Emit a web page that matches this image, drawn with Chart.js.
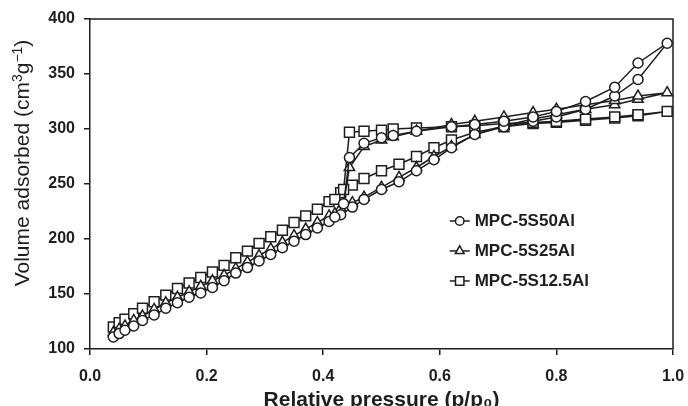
<!DOCTYPE html>
<html>
<head>
<meta charset="utf-8">
<script src="https://cdn.jsdelivr.net/npm/chart.js@4"></script>
<style>
  html, body { margin: 0; padding: 0; background: #fff; }
</style>
</head>
<body>
<canvas id="isoChart" width="688" height="406"></canvas>
<script>
// Presiones relativas (p/p0) de las ramas
const adsP = [0.04, 0.05, 0.06, 0.075, 0.09, 0.11, 0.13, 0.15, 0.17, 0.19, 0.21, 0.23, 0.25, 0.27, 0.29, 0.31, 0.33, 0.35, 0.37, 0.39, 0.41, 0.43, 0.45, 0.47, 0.50, 0.53, 0.56, 0.59, 0.62, 0.66, 0.71, 0.76, 0.80, 0.85, 0.90, 0.94, 0.99];
const desP = [0.94, 0.90, 0.85, 0.80, 0.76, 0.71, 0.66, 0.62, 0.56, 0.52, 0.50, 0.47, 0.445, 0.435, 0.42];

// Volumen adsorbido (cm3/g)
const ads50 = [111, 114, 117, 121, 126, 131, 137, 142, 147, 151, 156, 162, 169, 174, 180, 186, 192, 198, 204, 210, 216, 222, 229, 236, 245, 252, 262, 272, 283, 295, 302, 307, 311, 318, 330, 345, 378];
const des50 = [360, 338, 325, 316, 311, 307, 304, 302, 298, 294, 292, 287, 274, 232, 220];
const ads25 = [115, 118, 121, 126, 130, 136, 142, 147, 152, 157, 162, 167, 173, 179, 185, 191, 197, 203, 209, 215, 221, 228, 233, 238, 247, 256, 265, 275, 284, 295, 303, 309, 313, 318, 322, 327, 333];
const des25 = [330, 326, 322, 318, 315, 311, 307, 304, 298, 293, 290, 284, 265, 232, 223];
const ads125 = [120, 124, 127, 132, 137, 143, 149, 155, 160, 165, 170, 176, 183, 189, 196, 202, 208, 215, 221, 227, 234, 242, 249, 255, 262, 268, 275, 283, 290, 297, 302, 305, 306, 308, 310, 312, 316];
const des125 = [313, 311, 309, 307, 306, 305, 303, 302, 301, 300, 299, 298, 297, 245, 236];

const labels = ["MPC-5S50Al", "MPC-5S25Al", "MPC-5S12.5Al"];
const styles = ["circle", "triangle", "rect"];
const radios = [5, 6, 7];

const xTicks = [0, 0.2, 0.4, 0.6, 0.8, 1.0];
const yTicks = [100, 150, 200, 250, 300, 350, 400];

const tinta = "#1e1e1e";
const fuente = "'Liberation Sans', Arial, sans-serif";

// adsorcion y luego desorcion en un solo lazo
function lazo(ads, des) {
  const pts = adsP.map((p, i) => ({ x: p, y: ads[i] }));
  desP.forEach((p, i) => pts.push({ x: p, y: des[i] }));
  return pts;
}
const series = [lazo(ads50, des50), lazo(ads25, des25), lazo(ads125, des125)];

// marco superior y derecho del area de trazado
const marco = {
  id: "marco",
  afterDraw(chart) {
    const { ctx, chartArea: a } = chart;
    ctx.save();
    ctx.strokeStyle = tinta;
    ctx.lineWidth = 1.5;
    ctx.beginPath();
    ctx.moveTo(a.left, a.top);
    ctx.lineTo(a.right, a.top);
    ctx.lineTo(a.right, a.bottom);
    ctx.stroke();
    ctx.restore();
  },
};

// titulo del eje Y con superindices
const tituloY = {
  id: "tituloY",
  afterDraw(chart) {
    const { ctx } = chart;
    const partes = [
      ["Volume adsorbed (cm", false],
      ["3", true],
      ["g", false],
      ["\u22121", true],
      [")", false],
    ];
    const grande = "21px " + fuente;
    const chica = "14px " + fuente;
    ctx.save();
    let total = 0;
    partes.forEach(([t, sup]) => {
      ctx.font = sup ? chica : grande;
      total += ctx.measureText(t).width;
    });
    ctx.translate(22, 163);
    ctx.rotate(-Math.PI / 2);
    ctx.fillStyle = tinta;
    ctx.textBaseline = "alphabetic";
    let x = -total / 2;
    partes.forEach(([t, sup]) => {
      ctx.font = sup ? chica : grande;
      ctx.fillText(t, x, sup ? 0 : 7);
      x += ctx.measureText(t).width;
    });
    ctx.restore();
  },
};

function marcador(ctx, estilo, r, x, y) {
  ctx.beginPath();
  if (estilo === "circle") {
    ctx.arc(x, y, r, 0, Math.PI * 2);
  } else if (estilo === "triangle") {
    ctx.moveTo(x, y - r);
    ctx.lineTo(x + r * 0.866, y + r * 0.5);
    ctx.lineTo(x - r * 0.866, y + r * 0.5);
    ctx.closePath();
  } else {
    const s = r * Math.SQRT1_2;
    ctx.rect(x - s, y - s, 2 * s, 2 * s);
  }
  ctx.fill();
  ctx.stroke();
}

// leyenda dentro del grafico
const leyenda = {
  id: "leyenda",
  afterDraw(chart) {
    const { ctx, chartArea: a } = chart;
    const x0 = a.left + (a.right - a.left) * 0.617;
    const y0 = a.top + (a.bottom - a.top) * 0.612;
    ctx.save();
    ctx.font = "bold 17px " + fuente;
    ctx.textBaseline = "middle";
    labels.forEach((t, i) => {
      const y = y0 + i * 30;
      ctx.strokeStyle = tinta;
      ctx.lineWidth = 1.5;
      ctx.beginPath();
      ctx.moveTo(x0, y);
      ctx.lineTo(x0 + 20, y);
      ctx.stroke();
      ctx.fillStyle = "#fff";
      marcador(ctx, styles[i], radios[i] * 0.85, x0 + 10, y);
      ctx.fillStyle = tinta;
      ctx.fillText(t, x0 + 25, y);
    });
    ctx.restore();
  },
};

new Chart(document.getElementById("isoChart").getContext("2d"), {
  type: "scatter",
  data: {
    datasets: series.map((pts, i) => ({
      label: labels[i],
      data: pts,
      showLine: true,
      borderColor: tinta,
      borderWidth: 1.5,
      pointStyle: styles[i],
      pointRadius: radios[i],
      pointBackgroundColor: "#fff",
      pointBorderColor: tinta,
      pointBorderWidth: 1.5,
      tension: 0,
    })),
  },
  options: {
    responsive: false,
    animation: false,
    layout: { padding: { top: 19, right: 15, left: 0, bottom: 0 } },
    scales: {
      x: {
        type: "linear",
        min: 0,
        max: 1,
        afterBuildTicks: (s) => { s.ticks = xTicks.map((v) => ({ value: v })); },
        afterFit: (s) => {
          s.height = 57;
          s.paddingLeft = 0;
          s.paddingRight = 0;
        },
        border: { color: tinta, width: 1.5 },
        grid: { drawOnChartArea: false, tickLength: 6, color: tinta, lineWidth: 1.5 },
        ticks: {
          padding: 12,
          color: tinta,
          font: { family: fuente, size: 16, weight: "bold" },
          callback: (v) => v.toFixed(1),
        },
        title: {
          display: true,
          text: "Relative pressure (p/p\u2080)",
          color: tinta,
          font: { family: fuente, size: 21, weight: "bold" },
          padding: { top: 0, bottom: -7 },
        },
      },
      y: {
        min: 100,
        max: 400,
        afterBuildTicks: (s) => { s.ticks = yTicks.map((v) => ({ value: v })); },
        afterFit: (s) => { s.width = 90; },
        border: { color: tinta, width: 1.5 },
        grid: { drawOnChartArea: false, tickLength: 6, color: tinta, lineWidth: 1.5 },
        ticks: {
          padding: 9,
          color: tinta,
          font: { family: fuente, size: 16, weight: "bold" },
        },
      },
    },
    plugins: {
      legend: { display: false },
      tooltip: { enabled: false },
    },
  },
  plugins: [marco, tituloY, leyenda],
});
</script>
</body>
</html>
